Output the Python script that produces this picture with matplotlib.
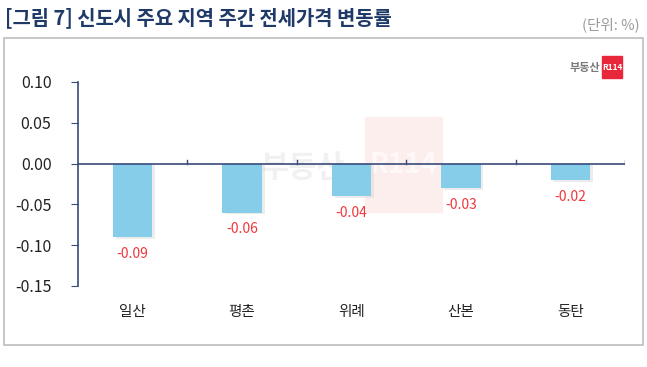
import matplotlib.pyplot as plt
from matplotlib.patches import Rectangle

plt.rcParams['font.family'] = ['Noto Sans CJK KR', 'DejaVu Sans']

# data
regions = ['일산', '평촌', '위례', '산본', '동탄']
changes = [-0.09, -0.06, -0.04, -0.03, -0.02]
yticks = [0.10, 0.05, 0.00, -0.05, -0.10, -0.15]

W, H = 647, 367
fig = plt.figure(figsize=(W / 100, H / 100), dpi=100)


def fx(px):
    return px / W


def fy(py):
    return 1 - py / H


# outer frame
fig.patches.append(Rectangle((fx(4), fy(345)), 639 / W, 307 / H, transform=fig.transFigure,
                             fill=False, edgecolor='#bdbdbd', lw=1.2))

fig.text(fx(5), fy(18), '[그림 7] 신도시 주요 지역 주간 전세가격 변동률', fontsize=14.3,
         fontweight='bold', color='#1f3a68', va='center', ha='left')
fig.text(fx(640), fy(25), '(단위: %)', fontsize=10.5, color='#9a9a9a', va='center', ha='right')

# small logo top right
fig.text(fx(600), fy(67), '부동산', fontsize=8, color='#7a7a7a', va='center', ha='right', fontweight='bold')
fig.patches.append(Rectangle((fx(602), fy(78)), 20 / W, 22 / H, transform=fig.transFigure,
                             color='#e8283a'))
fig.text(fx(612), fy(67), 'R114', fontsize=6, color='white', va='center', ha='center', fontweight='bold')

ax = fig.add_axes([fx(78), fy(286), 547 / W, 204 / H])
x = range(len(regions))

# faint watermark
ax.add_patch(Rectangle((fx(365), fy(212)), 77 / W, 95 / H, transform=fig.transFigure,
                       color='#fdeeee', zorder=0, clip_on=False))
ax.text(fx(303), fy(168), '부동산', transform=fig.transFigure, fontsize=22, color='#f1f1f1',
        fontweight='bold', ha='center', va='center', zorder=0)
ax.text(fx(403), fy(165), 'R114', transform=fig.transFigure, fontsize=20, color='#fff8f8',
        fontweight='bold', ha='center', va='center', zorder=0)

# shadows then bars
ax.bar([i + 0.025 for i in x], changes, width=0.36, bottom=-0.002, color='#d0d0d0', alpha=0.4, zorder=1)
ax.bar(x, changes, width=0.36, color='#86cdea', zorder=2)

for i, v in enumerate(changes):
    ax.text(i, v - 0.012, f'{v:.2f}', ha='center', va='top', fontsize=10, color='#f0373c')

ax.set_xlim(-0.5, len(regions) - 0.5)
ax.set_ylim(-0.15, 0.10)
ax.set_yticks(yticks)
ax.set_yticklabels([f'{t:.2f}' for t in yticks], fontsize=11.5, color='#222222')
ax.tick_params(axis='y', direction='out', length=5, color='#3a4a7a', pad=14)

ax.axhline(0, color='#3a4a7a', lw=1.2, zorder=3)
for b in [i + 0.5 for i in x]:
    ax.plot([b, b], [0, 0.005], color='#3a4a7a', lw=1, zorder=3)

ax.set_xticks([])
for i, r in enumerate(regions):
    ax.text(i, -0.182, r, ha='center', va='center', fontsize=10.5, color='#222222')

for s in ['top', 'right', 'bottom']:
    ax.spines[s].set_visible(False)
ax.spines['left'].set_color('#3a4a7a')
ax.spines['left'].set_linewidth(1.2)
ax.patch.set_visible(False)

fig.savefig('out.png', dpi=100)
